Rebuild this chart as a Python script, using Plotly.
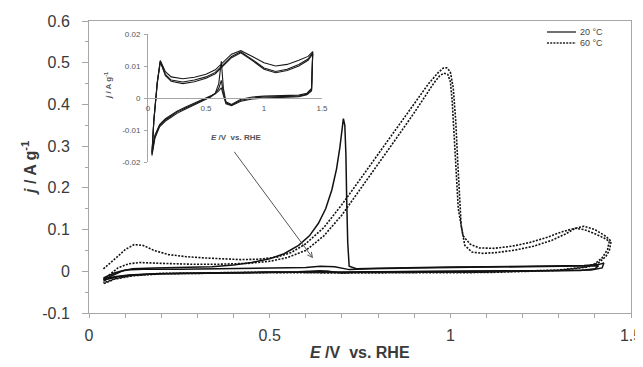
import plotly.graph_objects as go

# ---------------- main chart data (E / V vs RHE, j / A g-1) ----------------
# 20 °C, cycle 1 (sharp oxidation peak near 0.70 V)
e20_a = [0.04, 0.06, 0.09, 0.12, 0.18, 0.26, 0.34, 0.40, 0.45, 0.50, 0.54, 0.58, 0.61, 0.635,
         0.655, 0.672, 0.685, 0.694, 0.700, 0.704, 0.708, 0.711, 0.713, 0.716, 0.72, 0.74, 0.80,
         0.90, 1.00, 1.10, 1.20, 1.30, 1.37, 1.41, 1.425,
         1.42, 1.39, 1.30, 1.15, 1.00, 0.85, 0.75, 0.70, 0.66, 0.60, 0.50, 0.40, 0.30, 0.20,
         0.12, 0.08, 0.05, 0.04]
j20_a = [-0.022, -0.012, 0.0, 0.006, 0.008, 0.009, 0.011, 0.015, 0.021, 0.030, 0.042, 0.062, 0.085, 0.115,
         0.150, 0.195, 0.245, 0.295, 0.345, 0.366, 0.350, 0.280, 0.180, 0.070, 0.012, 0.006, 0.007,
         0.009, 0.010, 0.011, 0.012, 0.013, 0.014, 0.016, 0.020,
         0.008, 0.003, 0.002, 0.001, 0.0, -0.001, -0.002, -0.004, 0.0, -0.002, -0.003, -0.004, -0.005, -0.006,
         -0.009, -0.013, -0.019, -0.024]
# 20 °C, cycle 2
e20_b = [0.04, 0.07, 0.10, 0.15, 0.25, 0.35, 0.45, 0.55, 0.60, 0.64, 0.68, 0.72, 0.78, 0.90, 1.05,
         1.20, 1.32, 1.38, 1.41,
         1.40, 1.36, 1.25, 1.10, 0.95, 0.80, 0.72, 0.68, 0.64, 0.58, 0.48, 0.38, 0.28, 0.18, 0.11,
         0.07, 0.04]
j20_b = [-0.016, -0.004, 0.003, 0.005, 0.005, 0.006, 0.007, 0.008, 0.009, 0.012, 0.011, 0.004, 0.006, 0.008, 0.009,
         0.010, 0.011, 0.012, 0.013,
         0.006, 0.002, 0.001, 0.0, -0.001, -0.001, -0.003, -0.002, 0.001, -0.001, -0.002, -0.003, -0.004, -0.006, -0.009,
         -0.013, -0.019]

# 60 °C, cycle 1 (outer)
e60_a = [0.04, 0.06, 0.08, 0.10, 0.125, 0.15, 0.18, 0.22, 0.27, 0.32, 0.37, 0.42, 0.47, 0.52, 0.56,
         0.60, 0.65, 0.70, 0.75, 0.80, 0.85, 0.90, 0.94, 0.965, 0.98, 0.99, 1.00, 1.008, 1.015, 1.02,
         1.025, 1.03, 1.04, 1.06, 1.09, 1.13, 1.18, 1.23, 1.28, 1.32, 1.345, 1.37, 1.40, 1.43, 1.445,
         1.44, 1.43, 1.41, 1.38, 1.30, 1.10, 0.90, 0.70, 0.50, 0.30, 0.20, 0.12, 0.07, 0.04]
j60_a = [0.006, 0.020, 0.036, 0.052, 0.064, 0.062, 0.050, 0.040, 0.035, 0.032, 0.030, 0.028, 0.029, 0.034, 0.045,
         0.066, 0.105, 0.160, 0.220, 0.280, 0.340, 0.400, 0.450, 0.475, 0.487, 0.488, 0.478, 0.440, 0.360, 0.270,
         0.180, 0.110, 0.062, 0.046, 0.043, 0.045, 0.051, 0.060, 0.074, 0.090, 0.103, 0.108, 0.100, 0.084, 0.072,
         0.050, 0.035, 0.020, 0.010, 0.002, -0.003, -0.004, -0.004, -0.003, -0.004, -0.006, -0.011, -0.019, -0.030]
# 60 °C, cycle 2 (inner)
e60_b = [0.04, 0.06, 0.08, 0.11, 0.14, 0.20, 0.28, 0.36, 0.44, 0.50, 0.55, 0.60, 0.65, 0.70, 0.75,
         0.80, 0.85, 0.90, 0.935, 0.955, 0.97, 0.982, 0.993, 1.00, 1.005, 1.01, 1.015, 1.022, 1.035, 1.055,
         1.08, 1.12, 1.17, 1.22, 1.27, 1.31, 1.345, 1.37, 1.40, 1.425, 1.44,
         1.435, 1.42, 1.40, 1.37, 1.30, 1.10, 0.90, 0.70, 0.50, 0.30, 0.20, 0.12, 0.07, 0.04]
j60_b = [-0.020, -0.006, 0.008, 0.018, 0.021, 0.019, 0.017, 0.017, 0.019, 0.024, 0.033, 0.050, 0.085, 0.135, 0.195,
         0.255, 0.318, 0.380, 0.425, 0.452, 0.468, 0.475, 0.472, 0.455, 0.410, 0.330, 0.240, 0.150, 0.085, 0.065,
         0.056, 0.055, 0.060, 0.069, 0.082, 0.095, 0.103, 0.100, 0.090, 0.080, 0.072,
         0.052, 0.032, 0.018, 0.010, 0.003, -0.002, -0.003, -0.003, -0.002, -0.003, -0.005, -0.010, -0.018, -0.028]

# ---------------- inset data (20 °C blank CV, three cycles) ----------------
e_inset = [0.034, 0.06, 0.10, 0.15, 0.20, 0.25, 0.32, 0.40, 0.48, 0.54, 0.58, 0.61, 0.632, 0.65, 0.672,
           0.72, 0.80, 0.90, 1.00, 1.15, 1.30, 1.37, 1.41, 1.42,
           1.38, 1.30, 1.20, 1.10, 1.00, 0.90, 0.80, 0.72, 0.65, 0.58, 0.50, 0.40, 0.30, 0.20,
           0.15, 0.12, 0.106, 0.08, 0.05, 0.034]
j_inset_1 = [-0.018, -0.0125, -0.0090, -0.0072, -0.0060, -0.0048, -0.0035, -0.0022, -0.0008, 0.0003, 0.0015, 0.0045, 0.0115, 0.0030, -0.0012,
             -0.0020, -0.0004, 0.0003, 0.0006, 0.0007, 0.0009, 0.0015, 0.0030, 0.0145,
             0.0130, 0.0118, 0.0105, 0.0100, 0.0110, 0.0130, 0.0148, 0.0137, 0.0112, 0.0088, 0.0074, 0.0065, 0.0060, 0.0066,
             0.0082, 0.0104, 0.0117, 0.0050, -0.0070, -0.018]
j_inset_2 = [-0.0175, -0.0120, -0.0086, -0.0068, -0.0056, -0.0044, -0.0032, -0.0019, -0.0005, 0.0005, 0.0014, 0.0030, 0.0055, 0.0015, -0.0015,
             -0.0022, -0.0007, 0.0000, 0.0003, 0.0004, 0.0006, 0.0012, 0.0026, 0.0142,
             0.0122, 0.0105, 0.0090, 0.0083, 0.0094, 0.0120, 0.0144, 0.0130, 0.0104, 0.0080, 0.0066, 0.0056, 0.0050, 0.0056,
             0.0074, 0.0100, 0.0115, 0.0048, -0.0072, -0.0175]
j_inset_3 = [-0.0170, -0.0116, -0.0083, -0.0065, -0.0053, -0.0041, -0.0029, -0.0016, -0.0002, 0.0007, 0.0013, 0.0022, 0.0032, 0.0008, -0.0018,
             -0.0024, -0.0010, -0.0003, 0.0000, 0.0002, 0.0004, 0.0010, 0.0022, 0.0138,
             0.0118, 0.0100, 0.0086, 0.0079, 0.0090, 0.0117, 0.0141, 0.0126, 0.0100, 0.0076, 0.0062, 0.0051, 0.0045, 0.0052,
             0.0070, 0.0097, 0.0113, 0.0046, -0.0074, -0.0170]

# ---------------- ticks / labels ----------------
x_ticks = [0, 0.5, 1, 1.5]
x_ticktext = ["0", "0.5", "1", "1.5"]
y_ticks = [-0.1, 0, 0.1, 0.2, 0.3, 0.4, 0.5, 0.6]
y_ticktext = ["-0.1", "0", "0.1", "0.2", "0.3", "0.4", "0.5", "0.6"]
inset_x_ticks = [0, 0.5, 1, 1.5]
inset_x_ticktext = ["0", "0.5", "1", "1.5"]
inset_y_ticks = [-0.02, -0.01, 0, 0.01, 0.02]
inset_y_ticktext = ["-0.02", "-0.01", "0", "0.01", "0.02"]
legend_labels = ["20 °C", "60 °C"]

for a, b in [(e20_a, j20_a), (e20_b, j20_b), (e60_a, j60_a), (e60_b, j60_b),
             (e_inset, j_inset_1), (e_inset, j_inset_2), (e_inset, j_inset_3)]:
    assert len(a) == len(b), (len(a), len(b))

FONT = "Liberation Sans, Arial, sans-serif"
AXC = "#a6a6a6"
TXT = "#3a3a3a"
DOT = "2px,1.4px"

fig = go.Figure()
solid = dict(color="#111111", width=1.5)
dotted = dict(color="#111111", width=1.6, dash=DOT)
fig.add_trace(go.Scatter(x=e20_a, y=j20_a, mode="lines", line=solid, name=legend_labels[0], showlegend=False))
fig.add_trace(go.Scatter(x=e20_b, y=j20_b, mode="lines", line=solid, name=legend_labels[0], showlegend=False))
fig.add_trace(go.Scatter(x=e60_a, y=j60_a, mode="lines", line=dotted, name=legend_labels[1], showlegend=False))
fig.add_trace(go.Scatter(x=e60_b, y=j60_b, mode="lines", line=dotted, name=legend_labels[1], showlegend=False))

inset_line = dict(color="#1a1a1a", width=1.1)
for jj in (j_inset_1, j_inset_2, j_inset_3):
    fig.add_trace(go.Scatter(x=e_inset, y=jj, mode="lines", line=inset_line, xaxis="x2", yaxis="y2",
                             showlegend=False, cliponaxis=False))

# The page body has an 8px margin, so the figure starts at (8, 8) in the window.
OFF = 8
# plot area in window px: x 89..631, y 21..313
L, R, T, B = 89, 631, 21, 313
W, H = 643 - OFF, 367 - OFF
def px(xp):
    return (xp - L) / (R - L)
def py(yp):
    return (B - yp) / (B - T)

y2_dom = [py(162), py(34)]
fig.update_layout(
    width=W, height=H,
    margin=dict(l=L - OFF, r=W - (R - OFF), t=T - OFF, b=H - (B - OFF), autoexpand=False),
    paper_bgcolor="white", plot_bgcolor="white",
    font=dict(family=FONT, color=TXT, size=16),
    showlegend=False,
    xaxis=dict(range=[0, 1.5], tickvals=x_ticks, ticktext=x_ticktext, showgrid=False, zeroline=False,
               showline=True, linecolor=AXC, linewidth=1, mirror=True,
               ticks="outside", ticklen=4, tickcolor=AXC, ticklabelstandoff=4,
               minor=dict(dtick=0.1, ticks="outside", ticklen=4, tickcolor=AXC, showgrid=False),
               tickfont=dict(size=16, color=TXT)),
    yaxis=dict(range=[-0.1, 0.6], tickvals=y_ticks, ticktext=y_ticktext, showgrid=False, zeroline=False,
               showline=True, linecolor=AXC, linewidth=1, mirror=True,
               ticks="outside", ticklen=6, tickcolor=AXC, ticklabelstandoff=9,
               minor=dict(dtick=0.05, ticks="outside", ticklen=3, tickcolor=AXC, showgrid=False),
               tickfont=dict(size=16, color=TXT)),
    xaxis2=dict(domain=[px(148), px(322)], range=[0, 1.5], anchor="free",
                position=(y2_dom[0] + y2_dom[1]) / 2,
                tickvals=inset_x_ticks, ticktext=inset_x_ticktext, showgrid=False, zeroline=False,
                showline=True, linecolor=AXC, linewidth=1, ticks="", ticklabelstandoff=2,
                tickfont=dict(size=8, color="#555555")),
    yaxis2=dict(domain=y2_dom, range=[-0.02, 0.02], anchor="x2",
                tickvals=inset_y_ticks, ticktext=inset_y_ticktext, showgrid=False, zeroline=False,
                showline=True, linecolor=AXC, linewidth=1, ticks="outside", ticklen=3, tickcolor=AXC,
                ticklabelstandoff=2, tickfont=dict(size=8, color="#555555")),
)

ann = []
# main axis titles
ann.append(dict(text="<b><i>E</i> /V  vs. RHE</b>", x=px(360), y=py(352), xref="paper", yref="paper",
                showarrow=False, font=dict(size=16, color=TXT, family=FONT), xanchor="center", yanchor="middle"))
ann.append(dict(text="<b><i>j</i> / A g<sup>-1</sup></b>", x=px(29), y=py(168), xref="paper", yref="paper",
                showarrow=False, textangle=-90, font=dict(size=16, color=TXT, family=FONT),
                xanchor="center", yanchor="middle"))
# inset axis titles
ann.append(dict(text="<b><i>E</i> /V  vs. RHE</b>", x=px(236), y=py(137), xref="paper", yref="paper",
                showarrow=False, font=dict(size=8, color="#555555", family=FONT), xanchor="center", yanchor="middle"))
ann.append(dict(text="<b><i>j</i> / A g<sup>-1</sup></b>", x=px(108), y=py(86), xref="paper", yref="paper",
                showarrow=False, textangle=-90, font=dict(size=8, color="#555555", family=FONT),
                xanchor="center", yanchor="middle"))
# arrow from inset label to the main curve
ann.append(dict(text="", x=0.620, y=0.031, xref="x", yref="y", ax=0.399, ay=0.29, axref="x", ayref="y",
                showarrow=True, arrowhead=5, arrowsize=1, arrowwidth=1, arrowcolor="#555555"))
# legend text
ann.append(dict(text=legend_labels[0], x=px(578), y=py(32), xref="paper", yref="paper", showarrow=False,
                font=dict(size=9, color="#444444", family=FONT), xanchor="left", yanchor="middle"))
ann.append(dict(text=legend_labels[1], x=px(578), y=py(43), xref="paper", yref="paper", showarrow=False,
                font=dict(size=9, color="#444444", family=FONT), xanchor="left", yanchor="middle"))
fig.update_layout(annotations=ann)

# legend key lines
fig.add_shape(type="line", xref="paper", yref="paper", x0=px(547), x1=px(576), y0=py(32), y1=py(32),
              line=dict(color="#222222", width=1.3))
fig.add_shape(type="line", xref="paper", yref="paper", x0=px(547), x1=px(576), y0=py(43), y1=py(43),
              line=dict(color="#222222", width=1.3, dash="2px,1.2px"))

fig.write_html("out.html")
